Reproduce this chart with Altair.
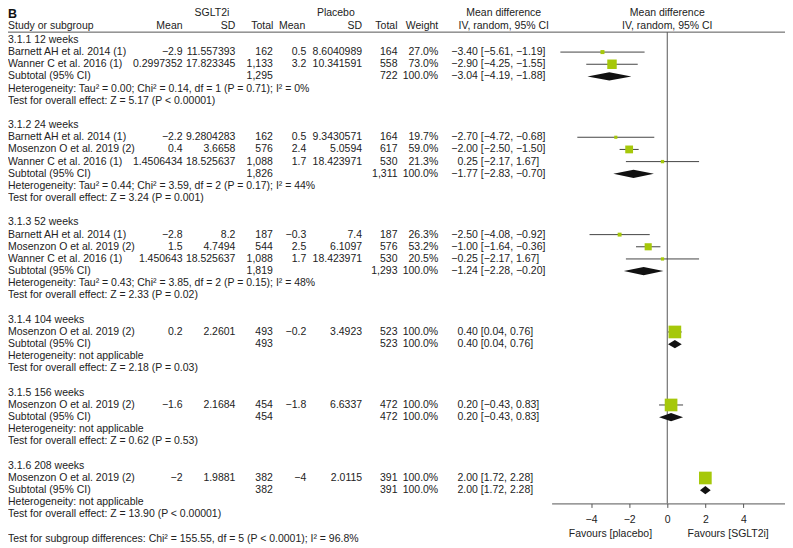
import altair as alt
import pandas as pd

FONT = "Liberation Sans"
FS = 10.5
TXT = "#222222"
GREEN = "#a6c80a"
LINE = "#444444"

# ---------------- data ----------------
group_titles = ["3.1.1 12 weeks", "3.1.2 24 weeks", "3.1.3 52 weeks",
                "3.1.4 104 weeks", "3.1.5 156 weeks", "3.1.6 208 weeks"]

study_names = ["Barnett AH et al. 2014 (1)", "Wanner C et al. 2016 (1)",
               "Barnett AH et al. 2014 (1)", "Mosenzon O et al. 2019 (2)", "Wanner C et al. 2016 (1)",
               "Barnett AH et al. 2014 (1)", "Mosenzon O et al. 2019 (2)", "Wanner C et al. 2016 (1)",
               "Mosenzon O et al. 2019 (2)", "Mosenzon O et al. 2019 (2)", "Mosenzon O et al. 2019 (2)"]
study_group = [0, 0, 1, 1, 1, 2, 2, 2, 3, 4, 5]
sg_mean = ["−2.9", "0.2997352", "−2.2", "0.4", "1.4506434", "−2.8", "1.5", "1.450643", "0.2", "−1.6", "−2"]
sg_sd = ["11.557393", "17.823345", "9.2804283", "3.6658", "18.525637", "8.2", "4.7494", "18.525637",
         "2.2601", "2.1684", "1.9881"]
sg_total = ["162", "1,133", "162", "576", "1,088", "187", "544", "1,088", "493", "454", "382"]
pl_mean = ["0.5", "3.2", "0.5", "2.4", "1.7", "−0.3", "2.5", "1.7", "−0.2", "−1.8", "−4"]
pl_sd = ["8.6040989", "10.341591", "9.3430571", "5.0594", "18.423971", "7.4", "6.1097", "18.423971",
         "3.4923", "6.6337", "2.0115"]
pl_total = ["164", "558", "164", "617", "530", "187", "576", "530", "523", "472", "391"]
weight = [27.0, 73.0, 19.7, 59.0, 21.3, 26.3, 53.2, 20.5, 100.0, 100.0, 100.0]
md = [-3.40, -2.90, -2.70, -2.00, -0.25, -2.50, -1.00, -0.25, 0.40, 0.20, 2.00]
md_lo = [-5.61, -4.25, -4.72, -2.50, -2.17, -4.08, -1.64, -2.17, 0.04, -0.43, 1.72]
md_hi = [-1.19, -1.55, -0.68, -1.50, 1.67, -0.92, -0.36, 1.67, 0.76, 0.83, 2.28]
md_label = ["−3.40", "−2.90", "−2.70", "−2.00", "0.25", "−2.50", "−1.00", "−0.25", "0.40", "0.20", "2.00"]

sub_sg_total = ["1,295", "1,826", "1,819", "493", "454", "382"]
sub_pl_total = ["722", "1,311", "1,293", "523", "472", "391"]
sub_md = [-3.04, -1.77, -1.24, 0.40, 0.20, 2.00]
sub_lo = [-4.19, -2.83, -2.28, 0.04, -0.43, 1.72]
sub_hi = [-1.88, -0.70, -0.20, 0.76, 0.83, 2.28]

heterogeneity = [
    "Heterogeneity: Tau² = 0.00; Chi² = 0.14, df = 1 (P = 0.71); I² = 0%",
    "Heterogeneity: Tau² = 0.44; Chi² = 3.59, df = 2 (P = 0.17); I² = 44%",
    "Heterogeneity: Tau² = 0.43; Chi² = 3.85, df = 2 (P = 0.15); I² = 48%",
    "Heterogeneity: not applicable",
    "Heterogeneity: not applicable",
    "Heterogeneity: not applicable",
]
overall = [
    "Test for overall effect: Z = 5.17 (P < 0.00001)",
    "Test for overall effect: Z = 3.24 (P = 0.001)",
    "Test for overall effect: Z = 2.33 (P = 0.02)",
    "Test for overall effect: Z = 2.18 (P = 0.03)",
    "Test for overall effect: Z = 0.62 (P = 0.53)",
    "Test for overall effect: Z = 13.90 (P < 0.00001)",
]
subgroup_diff = "Test for subgroup differences: Chi² = 155.55, df = 5 (P < 0.0001); I² = 96.8%"
axis_ticks = [-4, -2, 0, 2, 4]
favours = ["Favours [placebo]", "Favours [SGLT2i]"]


def f2(v):
    return f"{v:.2f}".replace("-", "−")


# ---------------- row layout ----------------
left_rows, left_text = [], []
study_rows, sub_rows = [], []
r = 0
for g, title in enumerate(group_titles):
    left_rows.append(r); left_text.append(title); r += 1
    for i, sg in enumerate(study_group):
        if sg == g:
            left_rows.append(r); left_text.append(study_names[i]); study_rows.append(r); r += 1
    left_rows.append(r); left_text.append("Subtotal (95% CI)"); sub_rows.append(r); r += 1
    left_rows.append(r); left_text.append(heterogeneity[g]); r += 1
    left_rows.append(r); left_text.append(overall[g]); r += 1
    r += 1
left_rows.append(r); left_text.append(subgroup_diff)

left_df = pd.DataFrame({"row": left_rows, "text": left_text})

studies = pd.DataFrame({
    "row": study_rows, "sg_mean": sg_mean, "sg_sd": sg_sd, "sg_total": sg_total,
    "pl_mean": pl_mean, "pl_sd": pl_sd, "pl_total": pl_total,
    "weight": weight, "wlab": [f"{w:.1f}%" for w in weight],
    "md": md, "lo": md_lo, "hi": md_hi,
    "est": md_label, "ci": [f"[{f2(a)}, {f2(b)}]" for a, b in zip(md_lo, md_hi)],
})
subs = pd.DataFrame({
    "row": sub_rows, "sg_total": sub_sg_total, "pl_total": sub_pl_total,
    "wlab": ["100.0%"] * len(sub_rows), "md": sub_md, "lo": sub_lo, "hi": sub_hi,
    "est": [f2(v) for v in sub_md], "ci": [f"[{f2(a)}, {f2(b)}]" for a, b in zip(sub_lo, sub_hi)],
})
table = pd.concat([studies, subs], ignore_index=True)

# diamond outline points (half height in row units)
H_ROW = 0.34
dia = []
for k, rr in enumerate(sub_rows):
    dia.append({"g": k, "x": sub_lo[k], "y1": rr, "y2": rr})
    dia.append({"g": k, "x": sub_md[k], "y1": rr - H_ROW, "y2": rr + H_ROW})
    dia.append({"g": k, "x": sub_hi[k], "y1": rr, "y2": rr})
dia_df = pd.DataFrame(dia)

# ---------------- scales ----------------
W, H = 779, 496
ROW_PX = 12.2
ROW0 = 31.3
LINE_Y = 23.5
yscale = alt.Scale(domain=[-ROW0 / ROW_PX, (H - ROW0) / ROW_PX], range=[0, H], nice=False, zero=False)
xscale = alt.Scale(domain=[-6.07, 6.18], range=[545, 779], nice=False, zero=False)
xaxis = alt.Axis(values=axis_ticks, format="d", title=None, grid=False, domainColor="#555555",
                 tickColor="#555555", tickSize=4, labelFont=FONT, labelFontSize=FS,
                 labelColor=TXT, labelPadding=7, domainWidth=1)


def tcol(df, field, x, align="right", **kw):
    return alt.Chart(df).mark_text(align=align, baseline="middle", font=FONT, fontSize=FS,
                                   color=TXT, **kw).encode(
        x=alt.value(x),
        y=alt.Y("row:Q", scale=yscale, axis=None),
        text=alt.Text(f"{field}:N"),
    ).transform_filter(f"isValid(datum.{field}) && datum.{field} != ''")


def htext(txt, x, y, align="center", **kw):
    return alt.Chart(pd.DataFrame({"t": [txt]})).mark_text(
        align=align, baseline="middle", font=FONT, fontSize=FS, color=TXT, **kw
    ).encode(x=alt.value(x), y=alt.value(y), text="t:N")


layers = []
# header
layers.append(alt.Chart(pd.DataFrame({"t": ["B"]})).mark_text(
    align="left", baseline="alphabetic", font=FONT, fontSize=12.5, fontWeight="bold", color="#111"
).encode(x=alt.value(0), y=alt.value(9), text="t:N"))
HY1, HY2 = 4.6, 17
layers += [
    htext("SGLT2i", 204.5, HY1), htext("Placebo", 328.7, HY1),
    htext("Mean difference", 497, HY1), htext("Mean difference", 661, HY1),
    htext("Study or subgroup", 0, HY2, align="left"),
    htext("Mean", 175, HY2, align="right"), htext("SD", 228, HY2, align="right"),
    htext("Total", 266, HY2, align="right"), htext("Mean", 298, HY2, align="right"),
    htext("SD", 355, HY2, align="right"), htext("Total", 390.5, HY2, align="right"),
    htext("Weight", 431.3, HY2, align="right"),
    htext("IV, random, 95% CI", 497, HY2), htext("IV, random, 95% CI", 661, HY2),
]
layers.append(alt.Chart(pd.DataFrame({"a": [0]})).mark_rule(color="#555555", strokeWidth=1).encode(
    x=alt.value(0), x2=alt.value(W), y=alt.value(LINE_Y)))

# table columns
layers += [
    tcol(left_df, "text", 0, align="left"),
    tcol(table, "sg_mean", 175), tcol(table, "sg_sd", 228), tcol(table, "sg_total", 265.5),
    tcol(table, "pl_mean", 299), tcol(table, "pl_sd", 355), tcol(table, "pl_total", 390.5),
    tcol(table, "wlab", 431.3), tcol(table, "est", 471), tcol(table, "ci", 474, align="left"),
]

# zero line
layers.append(alt.Chart(pd.DataFrame({"x": [0.0]})).mark_rule(color="#555555", strokeWidth=1).encode(
    x=alt.X("x:Q", scale=xscale, axis=xaxis), y=alt.value(LINE_Y), y2=alt.value(H)))

# CI lines
layers.append(alt.Chart(studies).mark_rule(color=LINE, strokeWidth=1).encode(
    x=alt.X("lo:Q", scale=xscale, axis=xaxis), x2="hi:Q",
    y=alt.Y("row:Q", scale=yscale, axis=None)))
# squares
layers.append(alt.Chart(studies).transform_calculate(
    sz="pow(0.8 + 0.119 * datum.weight, 2)"
).mark_square(color=GREEN, opacity=1).encode(
    x=alt.X("md:Q", scale=xscale, axis=xaxis),
    y=alt.Y("row:Q", scale=yscale, axis=None),
    size=alt.Size("sz:Q", scale=None, legend=None)))
# diamonds
layers.append(alt.Chart(dia_df).mark_area(color="#111111", orient="vertical", opacity=1).encode(
    x=alt.X("x:Q", scale=xscale, axis=xaxis),
    y=alt.Y("y1:Q", scale=yscale, axis=None), y2="y2:Q",
    detail="g:N"))

# favours labels
layers.append(htext(favours[0], 604, 527))
layers.append(htext(favours[1], 722, 527))

chart = alt.layer(*layers).properties(
    width=W, height=H,
    autosize=alt.AutoSizeParams(type="none"),
    padding={"left": 0, "top": 0, "right": 0, "bottom": 44},
).configure_view(stroke=None)

chart.save("out.html", embed_options={"renderer": "svg", "actions": False})
